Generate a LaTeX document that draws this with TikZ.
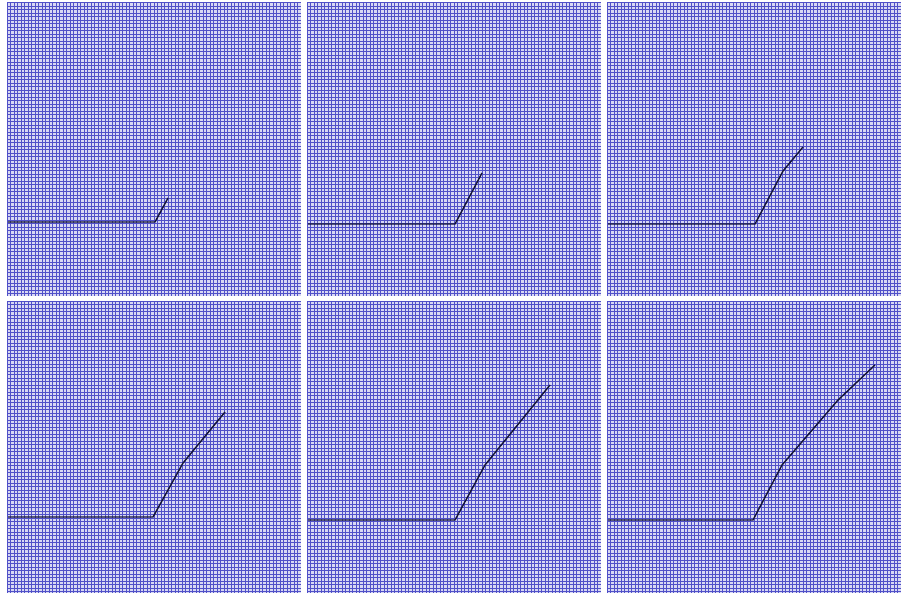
\documentclass[tikz,border=0pt]{standalone}
\usepackage{tikz}
\definecolor{meshblue}{RGB}{80,80,200}
\definecolor{crackink}{RGB}{20,20,55}

\begin{document}
\begin{tikzpicture}[
  x=0.5pt, y=-0.5pt,
  mesh/.style={draw=meshblue, line width=0.5pt},
  crack/.style={draw=crackink, line width=0.7pt, line join=round},
]
  \useasboundingbox[fill=white] (0,0) rectangle (903,593);

  % six snapshots of the growing crack
  \foreach \px/\py in {7/3, 307/3, 607/3, 7/301, 307/301, 607/301} {
    \begin{scope}[shift={(\px,\py)}]
      \fill[meshblue!22] (0,0) rectangle (294,293);
      \foreach \g in {0,3.5,...,293} {
        \draw[mesh] (\g,0) -- (\g,293);
        \draw[mesh] (0,\g) -- (294,\g);
      }
    \end{scope}
  }

  % top row
  \begin{scope}[shift={(7,3)}]
    \coordinate (t1) at (1,219);
    \coordinate (k1) at (148,219);
    \coordinate (e1) at (161,195);
    \draw[crack] (t1) -- (k1) -- (e1);
  \end{scope}
  \begin{scope}[shift={(307,3)}]
    \coordinate (t2) at (1,221);
    \coordinate (k2) at (148,221);
    \coordinate (e2) at (175,170);
    \draw[crack] (t2) -- (k2) -- (e2);
  \end{scope}
  \begin{scope}[shift={(607,3)}]
    \coordinate (t3) at (1,221);
    \coordinate (k3) at (148,221);
    \coordinate (m3) at (176,168);
    \coordinate (e3) at (196,144);
    \draw[crack] (t3) -- (k3) -- (m3) -- (e3);
  \end{scope}

  % bottom row
  \begin{scope}[shift={(7,301)}]
    \coordinate (t4) at (1,216);
    \coordinate (k4) at (146,216);
    \coordinate (m4) at (176,162);
    \coordinate (e4) at (218,111);
    \draw[crack] (t4) -- (k4) -- (m4) -- (e4);
  \end{scope}
  \begin{scope}[shift={(307,301)}]
    \coordinate (t5) at (1,219);
    \coordinate (k5) at (148,219);
    \coordinate (m5) at (178,164);
    \coordinate (e5) at (243,84);
    \draw[crack] (t5) -- (k5) -- (m5) -- (e5);
  \end{scope}
  \begin{scope}[shift={(607,301)}]
    \coordinate (t6) at (1,219);
    \coordinate (k6) at (146,219);
    \coordinate (m6) at (175,164);
    \coordinate (n6) at (231,99);
    \coordinate (e6) at (268,64);
    \draw[crack] (t6) -- (k6) -- (m6) -- (n6) -- (e6);
  \end{scope}
\end{tikzpicture}
\end{document}
